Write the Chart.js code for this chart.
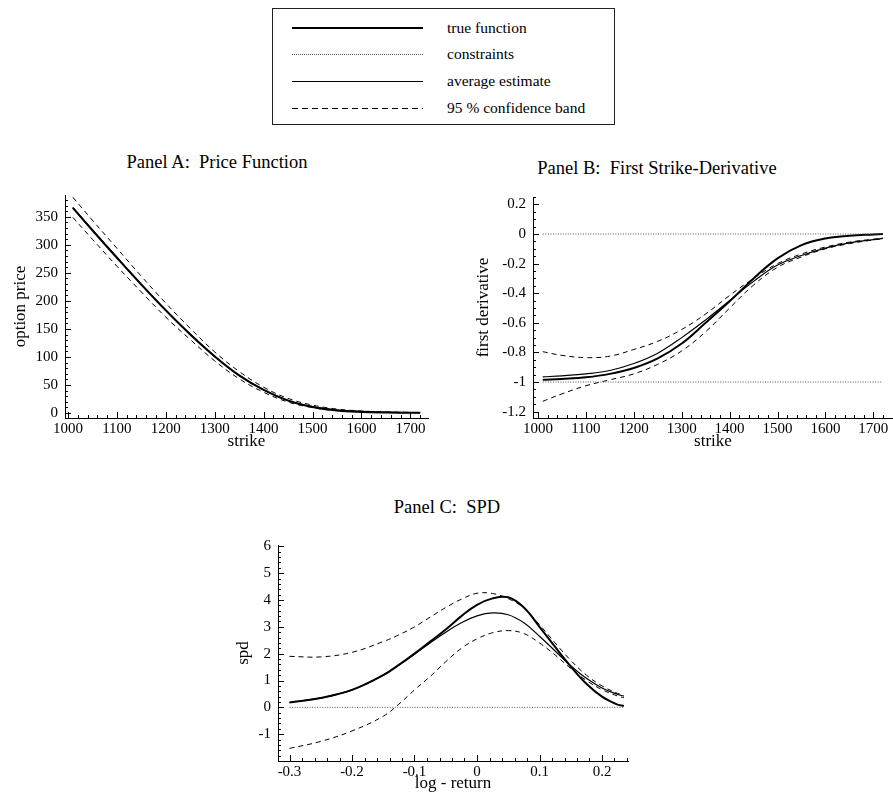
<!DOCTYPE html>
<html>
<head>
<meta charset="utf-8">
<script src="https://cdn.jsdelivr.net/npm/chart.js@4.4.1/dist/chart.umd.min.js"></script>
<style>
  body { margin: 0; background: #fff; font-family: 'Liberation Serif', 'Times New Roman', serif; }
  #page { position: relative; width: 893px; height: 803px; overflow: hidden; }
  canvas { position: absolute; }
  .title { position: absolute; font-size: 18.5px; color: #000; white-space: pre; transform: translate(-50%, -50%); }
  #legend { position: absolute; left: 272px; top: 8px; width: 341px; height: 115px; border: 1px solid #222; }
  .row { position: absolute; left: 0; width: 100%; height: 20px; }
  .sample { position: absolute; left: 19px; width: 131px; top: 50%; }
  .label { position: absolute; left: 174px; top: 50%; transform: translateY(-52%); font-size: 15.5px; white-space: pre; }
</style>
</head>
<body>
<div id="page">
  <div id="legend">
    <div class="row" style="top:9px"><div class="sample" style="height:2.4px;margin-top:-1px;background:#000"></div><div class="label">true function</div></div>
    <div class="row" style="top:35px"><div class="sample" style="height:1px;background:repeating-linear-gradient(90deg,#555 0 1px,transparent 1px 2px)"></div><div class="label">constraints</div></div>
    <div class="row" style="top:62px"><div class="sample" style="height:1.3px;background:#000"></div><div class="label">average estimate</div></div>
    <div class="row" style="top:89px"><div class="sample" style="height:1px;background:repeating-linear-gradient(90deg,#000 0 6px,transparent 6px 10px)"></div><div class="label">95 % confidence band</div></div>
  </div>
  <div class="title" style="left:217px;top:162px">Panel A:  Price Function</div>
  <div class="title" style="left:657px;top:168px">Panel B:  First Strike-Derivative</div>
  <div class="title" style="left:447px;top:507px">Panel C:  SPD</div>
  <canvas id="chartA" width="440" height="305" style="left:0px;top:150px"></canvas>
  <canvas id="chartB" width="453" height="305" style="left:440px;top:150px"></canvas>
  <canvas id="chartC" width="430" height="283" style="left:220px;top:520px"></canvas>
</div>
<script>
// Panel A / B: strikes
var strikes = [1010, 1050, 1100, 1150, 1200, 1250, 1300, 1350, 1400, 1450, 1500, 1550, 1600, 1650, 1700, 1720];

var priceTrue  = [366, 326, 277, 229, 183, 140, 101, 67, 41, 22, 10.5, 4.3, 1.7, 0.7, 0.3, 0.2];
var priceAvg   = [367, 327, 278, 230, 184, 141, 101, 67, 41.5, 22.5, 11.5, 5.5, 2.8, 1.5, 0.8, 0.6];
var priceUpper = [385, 344, 294, 244, 196, 151, 109, 74, 46, 26, 14, 7, 3.5, 1.8, 1, 0.8];
var priceLower = [349, 310, 262, 216, 171, 131, 93, 61, 37, 19.5, 9.5, 4.2, 2, 1.1, 0.6, 0.4];

var derivTrue  = [-0.985, -0.979, -0.968, -0.945, -0.905, -0.84, -0.74, -0.60, -0.455, -0.30, -0.165, -0.075, -0.03, -0.012, -0.003, 0];
var derivAvg   = [-0.965, -0.958, -0.945, -0.922, -0.875, -0.805, -0.70, -0.58, -0.45, -0.32, -0.21, -0.145, -0.095, -0.06, -0.038, -0.03];
var derivUpper = [-0.795, -0.82, -0.835, -0.825, -0.78, -0.725, -0.645, -0.54, -0.415, -0.30, -0.20, -0.135, -0.088, -0.055, -0.035, -0.028];
var derivLower = [-1.13, -1.08, -1.025, -0.985, -0.945, -0.88, -0.79, -0.66, -0.50, -0.345, -0.225, -0.155, -0.10, -0.065, -0.04, -0.032];

var constraintStrikes = [1010, 1720];
var derivUpperBound = [0, 0];
var derivLowerBound = [-1, -1];

// Panel C: log-returns
var returns = [-0.3, -0.25, -0.2, -0.15, -0.125, -0.1, -0.075, -0.05, -0.025, 0, 0.025, 0.05, 0.075, 0.1, 0.125, 0.15, 0.175, 0.2, 0.225, 0.235];
var spdTrue  = [0.18, 0.35, 0.65, 1.2, 1.58, 2.0, 2.45, 2.9, 3.4, 3.82, 4.06, 4.1, 3.72, 3.0, 2.25, 1.52, 0.88, 0.4, 0.1, 0.05];
var spdAvg   = [0.18, 0.35, 0.65, 1.2, 1.58, 1.98, 2.4, 2.8, 3.15, 3.41, 3.52, 3.45, 3.15, 2.65, 2.1, 1.55, 1.08, 0.72, 0.48, 0.42];
var spdUpper = [1.9, 1.88, 2.05, 2.45, 2.7, 3.0, 3.36, 3.72, 4.03, 4.25, 4.24, 4.05, 3.7, 3.08, 2.4, 1.75, 1.2, 0.8, 0.52, 0.45];
var spdLower = [-1.53, -1.27, -0.88, -0.33, 0.12, 0.65, 1.15, 1.7, 2.2, 2.55, 2.78, 2.86, 2.75, 2.4, 1.95, 1.45, 1.0, 0.66, 0.42, 0.36];

var constraintReturns = [-0.3, 0.235];
var spdBound = [0, 0];

// Tick labels
var strikeTicks = [1000, 1100, 1200, 1300, 1400, 1500, 1600, 1700];
var priceTicks = [0, 50, 100, 150, 200, 250, 300, 350];
var derivTicks = [0.2, 0, -0.2, -0.4, -0.6, -0.8, -1, -1.2];
var returnTicks = [-0.3, -0.2, -0.1, 0, 0.1, 0.2];
var spdTicks = [-1, 0, 1, 2, 3, 4, 5, 6];

var FONT = "'Liberation Serif', 'Times New Roman', serif";
Chart.defaults.font.family = FONT;
Chart.defaults.color = '#000';

function points(xs, ys) {
    return xs.map(function (x, i) { return { x: x, y: ys[i] }; });
}

// Line styles
function band(xs, ys)  { return { data: points(xs, ys), borderColor: '#000', borderWidth: 1, borderDash: [5, 4] }; }
function avg(xs, ys)   { return { data: points(xs, ys), borderColor: '#000', borderWidth: 1.2 }; }
function truth(xs, ys) { return { data: points(xs, ys), borderColor: '#000', borderWidth: 2 }; }
function bound(xs, ys) { return { data: points(xs, ys), borderColor: '#555', borderWidth: 1, borderDash: [1, 1.5] }; }

// Mathematica-style inward tick marks (major + minor)
function drawTickMarks(chart, o) {
    var ctx = chart.ctx;
    var xs = chart.scales.x, ys = chart.scales.y;
    var area = chart.chartArea;
    ctx.save();
    ctx.setLineDash([]);
    ctx.strokeStyle = '#000';
    ctx.lineWidth = 1;
    var k, p, len;
    ctx.beginPath();
    for (k = Math.ceil(xs.min / o.xMinor - 1e-6); k * o.xMinor <= xs.max + 1e-9; k++) {
        p = Math.round(xs.getPixelForValue(k * o.xMinor)) + 0.5;
        len = (k % o.xEvery === 0) ? 6 : 3;
        ctx.moveTo(p, area.bottom); ctx.lineTo(p, area.bottom - len);
    }
    for (k = Math.ceil(ys.min / o.yMinor - 1e-6); k * o.yMinor <= ys.max + 1e-9; k++) {
        p = Math.round(ys.getPixelForValue(k * o.yMinor)) + 0.5;
        len = (k % o.yEvery === 0) ? 6 : 3;
        ctx.moveTo(area.left, p); ctx.lineTo(area.left + len, p);
    }
    ctx.stroke();
    ctx.restore();
}

function makePanel(id, o) {
    var tickFont = { family: FONT, size: 15 };
    var titleFont = { family: FONT, size: 17 };
    new Chart(document.getElementById(id), {
        type: 'line',
        data: { datasets: o.datasets },
        options: {
            responsive: false,
            animation: false,
            devicePixelRatio: 1,
            layout: { padding: { top: o.padTop, right: o.padRight, left: 0, bottom: 0 } },
            elements: {
                point: { radius: 0 },
                line: { tension: 0.4, fill: false }
            },
            plugins: {
                legend: { display: false },
                tooltip: { enabled: false }
            },
            scales: {
                x: {
                    type: 'linear', min: o.xMin, max: o.xMax,
                    grid: { display: false, drawTicks: false },
                    border: { display: true, color: '#000', width: 1 },
                    ticks: { font: tickFont, color: '#000', padding: 2, maxRotation: 0, autoSkip: false,
                             callback: function (v) { return String(v); } },
                    afterBuildTicks: function (s) { s.ticks = o.xTicks.map(function (v) { return { value: v }; }); },
                    afterFit: function (s) { s.height = o.xHeight; },
                    title: { display: true, text: o.xTitle, font: titleFont, color: '#000', padding: { top: 0, bottom: o.xTitlePad } }
                },
                y: {
                    type: 'linear', min: o.yMin, max: o.yMax,
                    grid: { display: false, drawTicks: false },
                    border: { display: true, color: '#000', width: 1 },
                    ticks: { font: tickFont, color: '#000', padding: 7, autoSkip: false,
                             callback: function (v) { return String(v); } },
                    afterBuildTicks: function (s) { s.ticks = o.yTicks.map(function (v) { return { value: v }; }); },
                    afterFit: function (s) { s.width = o.yWidth; },
                    title: { display: true, text: o.yTitle, font: titleFont, color: '#000', padding: { top: o.yTitlePad, bottom: 0 } }
                }
            }
        },
        plugins: [{
            id: 'inwardTicks',
            afterDraw: function (chart) { drawTickMarks(chart, o); }
        }]
    });
}

makePanel('chartA', {
    datasets: [
        band(strikes, priceUpper), band(strikes, priceLower),
        avg(strikes, priceAvg), truth(strikes, priceTrue)
    ],
    xMin: 994, xMax: 1736, yMin: -9, yMax: 389,
    xTicks: strikeTicks, yTicks: priceTicks, xMinor: 20, xEvery: 5, yMinor: 10, yEvery: 5,
    xTitle: 'strike', yTitle: 'option price',
    padTop: 45, padRight: 12, xHeight: 37, yWidth: 65, xTitlePad: 3, yTitlePad: 10
});

makePanel('chartB', {
    datasets: [
        bound(constraintStrikes, derivUpperBound), bound(constraintStrikes, derivLowerBound),
        band(strikes, derivUpper), band(strikes, derivLower),
        avg(strikes, derivAvg), truth(strikes, derivTrue)
    ],
    xMin: 989.6, xMax: 1741, yMin: -1.243, yMax: 0.25,
    xTicks: strikeTicks, yTicks: derivTicks, xMinor: 20, xEvery: 5, yMinor: 0.05, yEvery: 4,
    xTitle: 'strike', yTitle: 'first derivative',
    padTop: 47, padRight: 0, xHeight: 37, yWidth: 93, xTitlePad: 3, yTitlePad: 33
});

makePanel('chartC', {
    datasets: [
        bound(constraintReturns, spdBound),
        band(returns, spdUpper), band(returns, spdLower),
        avg(returns, spdAvg), truth(returns, spdTrue)
    ],
    xMin: -0.3184, xMax: 0.2416, yMin: -2.0, yMax: 6.05,
    xTicks: returnTicks, yTicks: spdTicks, xMinor: 0.02, xEvery: 5, yMinor: 0.2, yEvery: 5,
    xTitle: 'log - return', yTitle: 'spd',
    padTop: 25, padRight: 22, xHeight: 42, yWidth: 58, xTitlePad: 9, yTitlePad: 13
});
</script>
</body>
</html>
